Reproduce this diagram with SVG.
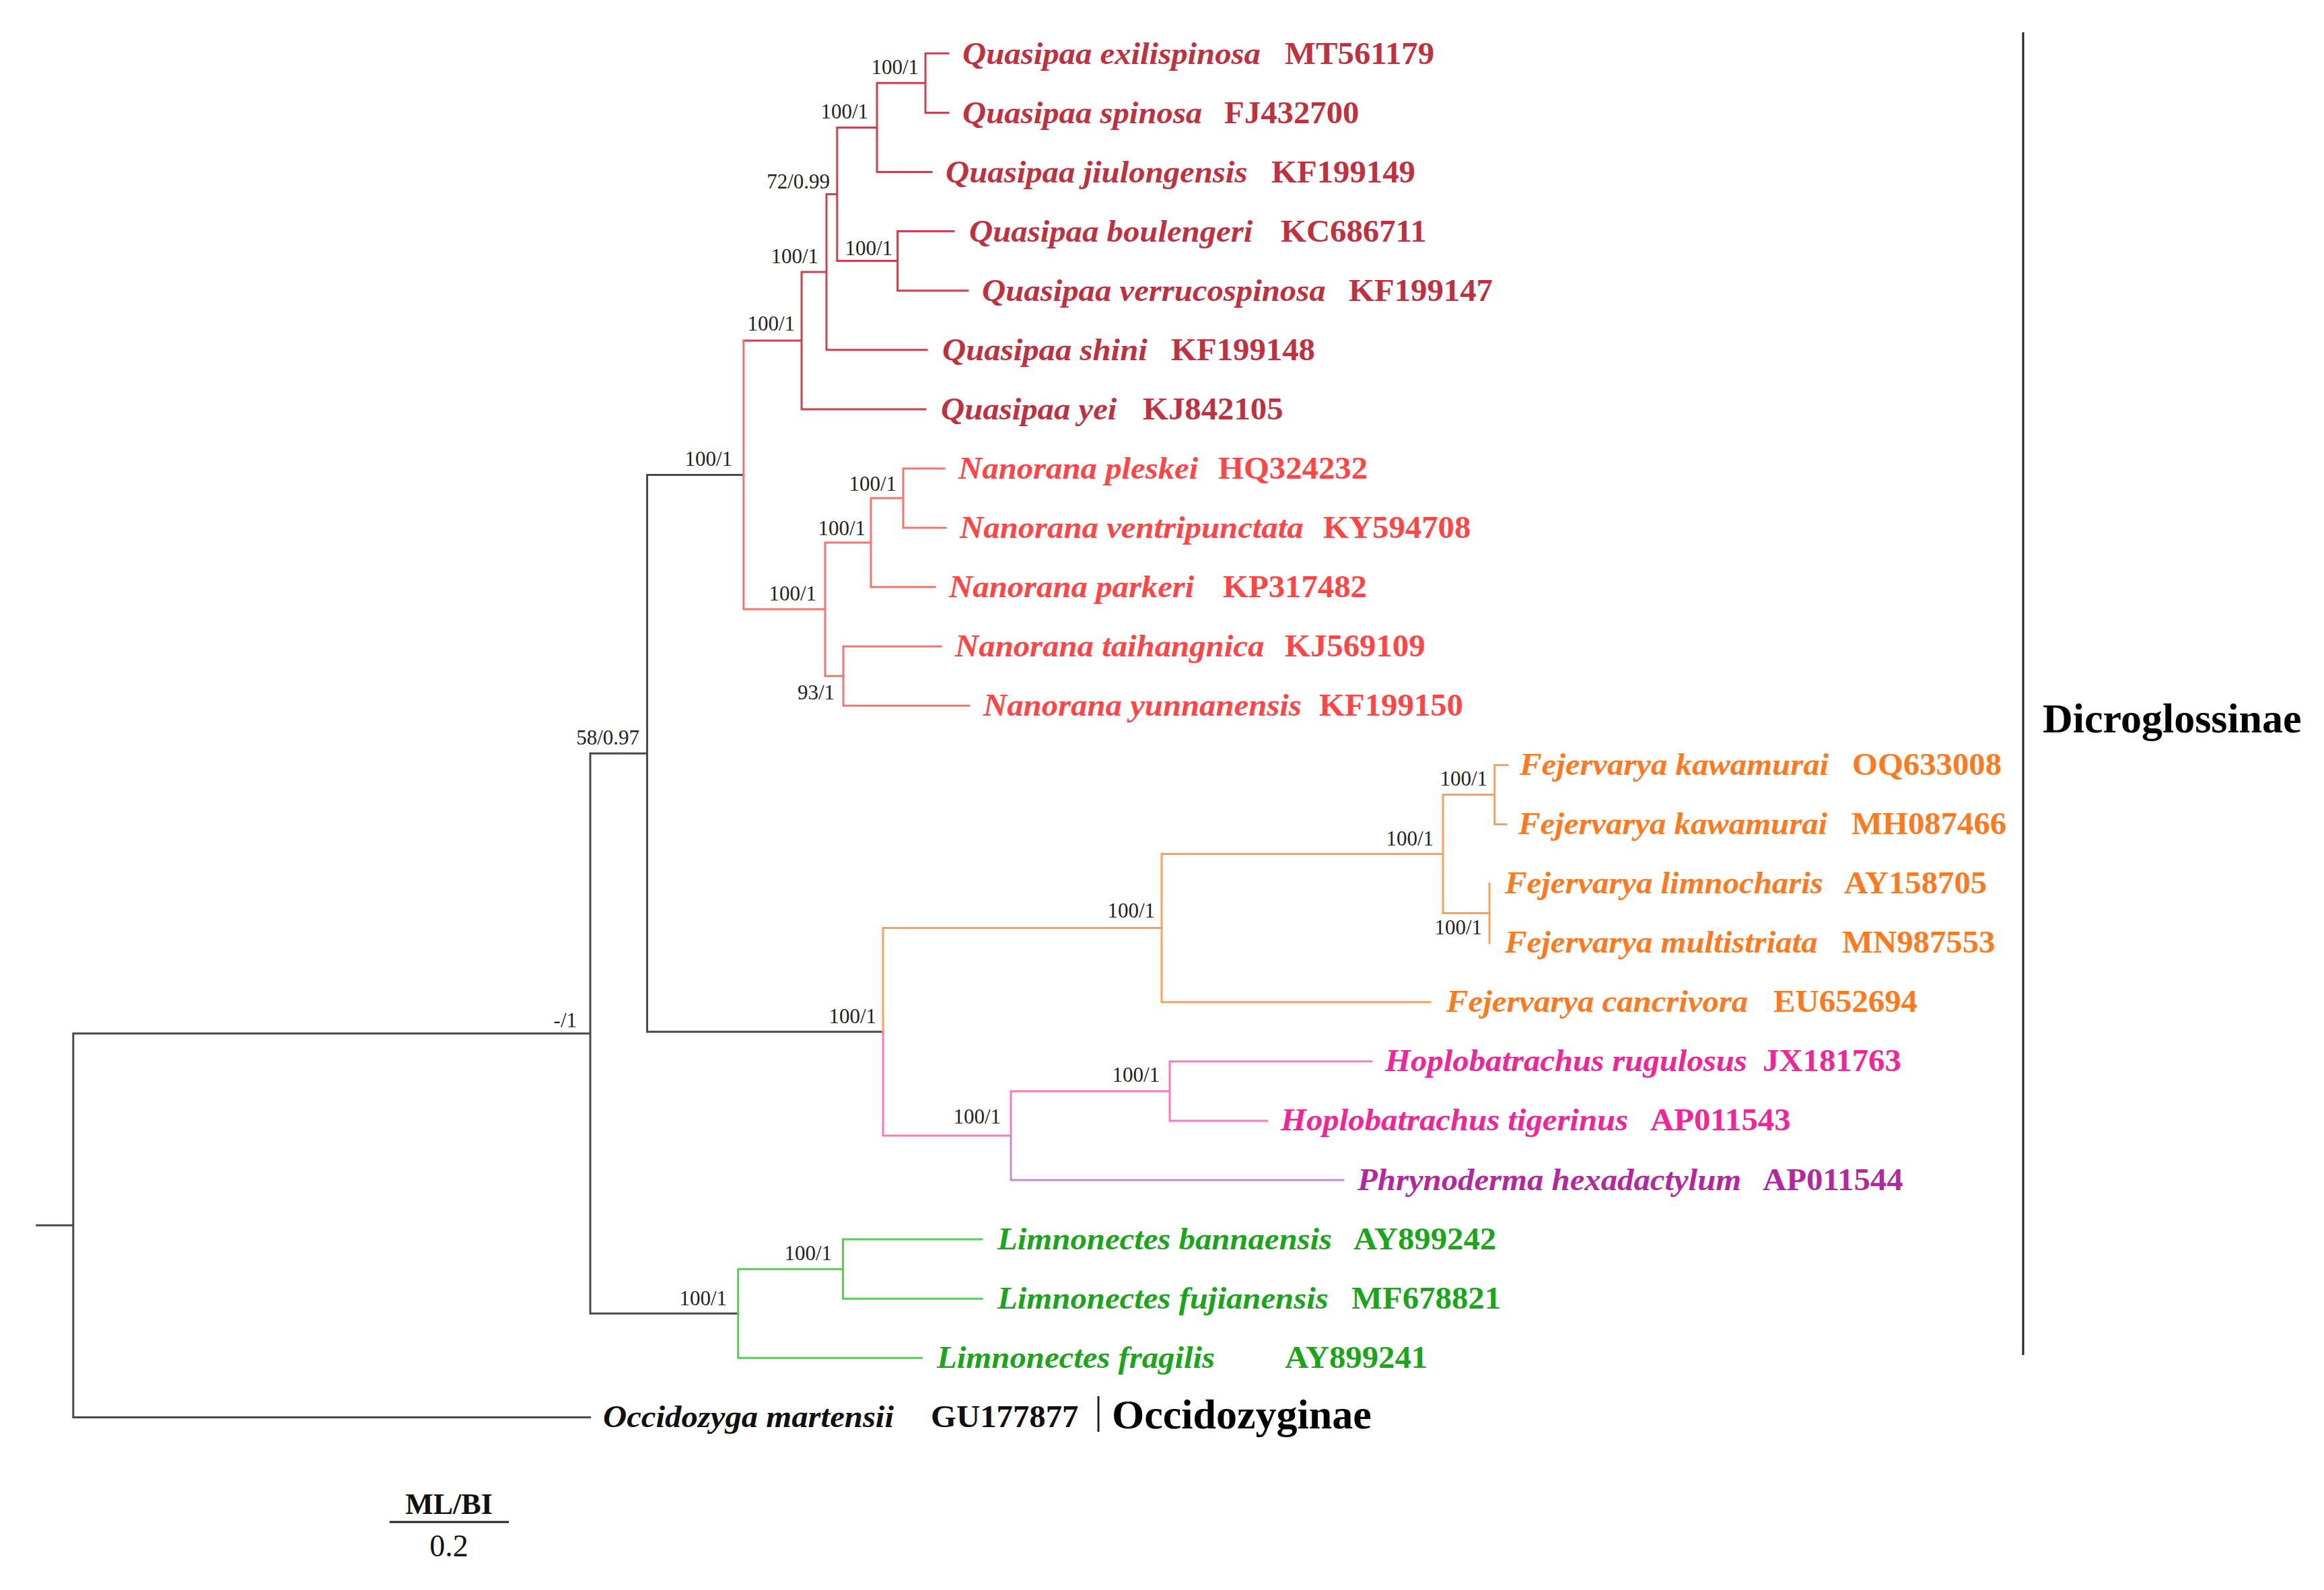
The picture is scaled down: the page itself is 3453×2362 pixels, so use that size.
<svg xmlns="http://www.w3.org/2000/svg" width="3453" height="2362" viewBox="0 0 3453 2362">
<style>
  .br { fill: none; stroke-width: 3; stroke-linecap: square; }
  .k { stroke: #4a4a4a; }
  .q { stroke: #c9424f; }
  .n { stroke: #f27575; }
  .f { stroke: #ff9f5a; }
  .h { stroke: #f77bbd; }
  .p { stroke: #c58bd0; }
  .l { stroke: #5acb5a; }
  .tip { font-family: "Liberation Serif", "Times New Roman", serif; font-size: 46px; font-weight: bold; transform-box: fill-box; transform-origin: 0 0; transform: scaleX(1.06); }
  .nm { font-style: italic; }
  .tq { fill: #c0313f; }
  .tn { fill: #ff4545; }
  .tf { fill: #ff7a1f; }
  .th { fill: #f0259a; }
  .tp { fill: #b5279f; }
  .tl { fill: #1aa51a; }
  .tk { fill: #111111; }
  .bs { font-family: "Liberation Serif", "Times New Roman", serif; font-size: 31px; fill: #222222; text-anchor: end; }
  .clade { font-family: "Liberation Serif", "Times New Roman", serif; font-size: 62px; font-weight: bold; fill: #000000; }
  .bar { stroke: #222222; stroke-width: 3; fill: none; }
  .sc { font-family: "Liberation Serif", "Times New Roman", serif; fill: #111111; text-anchor: middle; }
</style>

<g id="connectors">
  <path class="br k" d="M54.7 1820.3 H108.8 M108.8 1535.2 V2105.4 M108.8 2105.4 H876.5 M108.8 1535.2 H877 M877 1119.2 V1951.2 M877 1119.2 H961.5 M961.5 705.6 V1532.8 M961.5 705.6 H1104.8 M961.5 1532.8 H1312 M877 1951.2 H1096.7"/>
  <path class="br q" d="M1375 79.3 V167.4 M1375 79.3 H1409 M1375 167.4 H1409 M1303 123.3 H1375 M1303 123.3 V255.5 M1303 255.5 H1384 M1243.8 189.4 H1303 M1333.6 343.6 V431.7 M1333.6 343.6 H1417 M1333.6 431.7 H1438 M1243.8 387.6 H1333.6 M1243.8 189.4 V387.6 M1228 288.5 H1243.8 M1228 288.5 V519.8 M1228 519.8 H1377 M1191 404 H1228 M1191 404 V607.9 M1191 607.9 H1375 M1104.8 506 H1191"/>
  <path class="br n" d="M1104.8 506 V905.1 M1104.8 905.1 H1226 M1226 806 V1004.3 M1226 806 H1294 M1294 740 V872.1 M1294 740 H1342 M1342 695.9 V784 M1342 695.9 H1403 M1342 784 H1405 M1294 872.1 H1389 M1226 1004.3 H1253 M1253 960.2 V1048.3 M1253 960.2 H1398 M1253 1048.3 H1440"/>
  <path class="br f" d="M1312 1378.6 V1532.8 M1312 1378.6 H1726 M1726 1268.5 V1488.8 M1726 1268.5 H2144 M1726 1488.8 H2125 M2144 1180.4 V1356.6 M2144 1180.4 H2220.7 M2220.7 1136.4 V1224.5 M2220.7 1136.4 H2240 M2220.7 1224.5 H2238 M2144 1356.6 H2213 M2213 1312.6 V1400.7"/>
  <path class="br h" d="M1312 1532.8 V1687 M1312 1687 H1502 M1502 1620.9 V1687 M1502 1620.9 H1738 M1738 1576.8 V1664.9 M1738 1576.8 H2037.6 M1738 1664.9 H1882.7"/>
  <path class="br p" d="M1502 1687 V1753 M1502 1753 H1995.6"/>
  <path class="br l" d="M1096.7 1885.2 V2017.3 M1096.7 1885.2 H1252.5 M1252.5 1841.1 V1929.2 M1252.5 1841.1 H1459 M1252.5 1929.2 H1459 M1096.7 2017.3 H1369.6"/>
</g>

<g id="support-values">
  <g id="node-A"><text class="bs" x="1365" y="110">100/1</text></g>
  <g id="node-B"><text class="bs" x="1290" y="176">100/1</text></g>
  <g id="node-C"><text class="bs" x="1326" y="379">100/1</text></g>
  <g id="node-D"><text class="bs" x="1233" y="280">72/0.99</text></g>
  <g id="node-E"><text class="bs" x="1216" y="391">100/1</text></g>
  <g id="node-F"><text class="bs" x="1181" y="491">100/1</text></g>
  <g id="node-G"><text class="bs" x="1088" y="692">100/1</text></g>
  <g id="node-I"><text class="bs" x="1332" y="729">100/1</text></g>
  <g id="node-J"><text class="bs" x="1286" y="795">100/1</text></g>
  <g id="node-L"><text class="bs" x="1213" y="892">100/1</text></g>
  <g id="node-K"><text class="bs" x="1240" y="1039">93/1</text></g>
  <g id="node-H"><text class="bs" x="950" y="1106">58/0.97</text></g>
  <g id="node-V"><text class="bs" x="857" y="1526">-/1</text></g>
  <g id="node-M"><text class="bs" x="1302" y="1520">100/1</text></g>
  <g id="node-N"><text class="bs" x="1716" y="1363">100/1</text></g>
  <g id="node-O"><text class="bs" x="2130" y="1256">100/1</text></g>
  <g id="node-P"><text class="bs" x="2210" y="1167">100/1</text></g>
  <g id="node-Q"><text class="bs" x="2202" y="1388">100/1</text></g>
  <g id="node-R"><text class="bs" x="1723" y="1607">100/1</text></g>
  <g id="node-S"><text class="bs" x="1487" y="1669">100/1</text></g>
  <g id="node-T"><text class="bs" x="1080" y="1939">100/1</text></g>
  <g id="node-U"><text class="bs" x="1236" y="1872">100/1</text></g>
</g>

<g id="tips">
  <g id="tip-MT561179"><text class="tip nm tq" x="1430" y="95">Quasipaa exilispinosa</text><text class="tip tq" x="1909" y="95">MT561179</text></g>
  <g id="tip-FJ432700"><text class="tip nm tq" x="1430" y="183">Quasipaa spinosa</text><text class="tip tq" x="1819" y="183">FJ432700</text></g>
  <g id="tip-KF199149"><text class="tip nm tq" x="1405" y="271">Quasipaa jiulongensis</text><text class="tip tq" x="1889" y="271">KF199149</text></g>
  <g id="tip-KC686711"><text class="tip nm tq" x="1440" y="359">Quasipaa boulengeri</text><text class="tip tq" x="1903" y="359">KC686711</text></g>
  <g id="tip-KF199147"><text class="tip nm tq" x="1459" y="447">Quasipaa verrucospinosa</text><text class="tip tq" x="2004" y="447">KF199147</text></g>
  <g id="tip-KF199148"><text class="tip nm tq" x="1400" y="535">Quasipaa shini</text><text class="tip tq" x="1740" y="535">KF199148</text></g>
  <g id="tip-KJ842105"><text class="tip nm tq" x="1398" y="623">Quasipaa yei</text><text class="tip tq" x="1698" y="623">KJ842105</text></g>
  <g id="tip-HQ324232"><text class="tip nm tn" x="1424" y="711">Nanorana pleskei</text><text class="tip tn" x="1810" y="711">HQ324232</text></g>
  <g id="tip-KY594708"><text class="tip nm tn" x="1426" y="799.5">Nanorana ventripunctata</text><text class="tip tn" x="1966" y="799.5">KY594708</text></g>
  <g id="tip-KP317482"><text class="tip nm tn" x="1410" y="887.5">Nanorana parkeri</text><text class="tip tn" x="1817" y="887.5">KP317482</text></g>
  <g id="tip-KJ569109"><text class="tip nm tn" x="1419" y="975.5">Nanorana taihangnica</text><text class="tip tn" x="1909" y="975.5">KJ569109</text></g>
  <g id="tip-KF199150"><text class="tip nm tn" x="1461" y="1063.5">Nanorana yunnanensis</text><text class="tip tn" x="1960" y="1063.5">KF199150</text></g>
  <g id="tip-OQ633008"><text class="tip nm tf" x="2258" y="1151.5">Fejervarya kawamurai</text><text class="tip tf" x="2752" y="1151.5">OQ633008</text></g>
  <g id="tip-MH087466"><text class="tip nm tf" x="2256" y="1239.5">Fejervarya kawamurai</text><text class="tip tf" x="2751" y="1239.5">MH087466</text></g>
  <g id="tip-AY158705"><text class="tip nm tf" x="2236" y="1327.5">Fejervarya limnocharis</text><text class="tip tf" x="2740" y="1327.5">AY158705</text></g>
  <g id="tip-MN987553"><text class="tip nm tf" x="2236" y="1415.5">Fejervarya multistriata</text><text class="tip tf" x="2737" y="1415.5">MN987553</text></g>
  <g id="tip-EU652694"><text class="tip nm tf" x="2149" y="1503.5">Fejervarya cancrivora</text><text class="tip tf" x="2635" y="1503.5">EU652694</text></g>
  <g id="tip-JX181763"><text class="tip nm th" x="2058" y="1591.5">Hoplobatrachus rugulosus</text><text class="tip th" x="2619" y="1591.5">JX181763</text></g>
  <g id="tip-AP011543"><text class="tip nm th" x="1903" y="1679.5">Hoplobatrachus tigerinus</text><text class="tip th" x="2452" y="1679.5">AP011543</text></g>
  <g id="tip-AP011544"><text class="tip nm tp" x="2017" y="1768">Phrynoderma hexadactylum</text><text class="tip tp" x="2619" y="1768">AP011544</text></g>
  <g id="tip-AY899242"><text class="tip nm tl" x="1482" y="1856">Limnonectes bannaensis</text><text class="tip tl" x="2011" y="1856">AY899242</text></g>
  <g id="tip-MF678821"><text class="tip nm tl" x="1482" y="1944">Limnonectes fujianensis</text><text class="tip tl" x="2008" y="1944">MF678821</text></g>
  <g id="tip-AY899241"><text class="tip nm tl" x="1392" y="2032">Limnonectes fragilis</text><text class="tip tl" x="1909" y="2032">AY899241</text></g>
  <g id="tip-GU177877"><text class="tip nm tk" x="896" y="2120">Occidozyga martensii</text><text class="tip tk" x="1383" y="2120">GU177877</text></g>
</g>

<g id="clade-Dicroglossinae">
  <path class="bar" d="M3006 48 V2013"/>
  <text class="clade" x="3035" y="1088">Dicroglossinae</text>
</g>
<g id="clade-Occidozyginae">
  <path class="bar" d="M1632 2074 V2127"/>
  <text class="clade" x="1652" y="2122">Occidozyginae</text>
</g>

<g id="scale-bar">
  <text class="sc" x="667" y="2249" font-size="44" font-weight="bold">ML/BI</text>
  <path class="bar" d="M578.7 2261 H756.2"/>
  <text class="sc" x="667" y="2312" font-size="46">0.2</text>
</g>
</svg>
